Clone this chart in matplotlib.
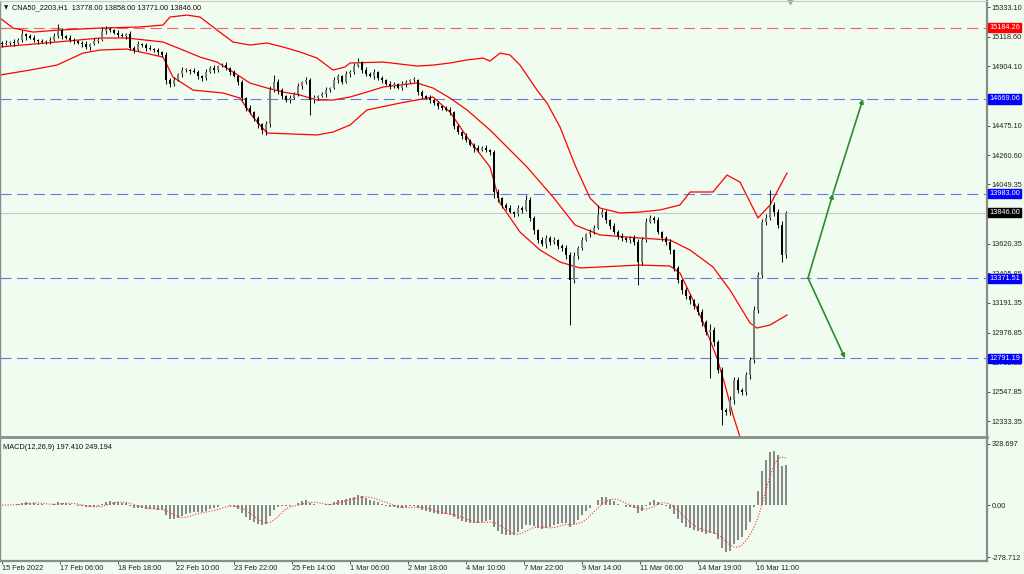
import numpy as np
import pandas as pd
import matplotlib
matplotlib.use('Agg')
import matplotlib.pyplot as plt

plt.rcParams['font.family'] = ['Liberation Sans', 'DejaVu Sans']

# H1 chart sampled every 2 bars
first_open = 15074
closes = [15066, 15074, 15081, 15074, 15095, 15139, 15124, 15110, 15095, 15088,
          15081, 15088, 15095, 15124, 15168, 15124, 15110, 15095, 15088, 15074,
          15066, 15045, 15066, 15088, 15095, 15161, 15175, 15168, 15146, 15132,
          15124, 15139, 15037, 15023, 15066, 15059, 15037, 15030, 15023, 15009,
          14987, 14806, 14777, 14806, 14849, 14878, 14878, 14871, 14864, 14835,
          14820, 14864, 14893, 14878, 14907, 14914, 14893, 14864, 14835, 14791,
          14675, 14603, 14574, 14531, 14487, 14444, 14487, 14733, 14791, 14733,
          14690, 14661, 14675, 14704, 14762, 14791, 14806, 14661, 14675, 14690,
          14704, 14733, 14748, 14806, 14835, 14791, 14849, 14864, 14907, 14936,
          14878, 14849, 14835, 14864, 14820, 14806, 14777, 14762, 14777, 14748,
          14777, 14791, 14806, 14806, 14719, 14690, 14675, 14661, 14639, 14618,
          14603, 14589, 14574, 14473, 14429, 14400, 14371, 14335, 14313, 14299,
          14313, 14299, 14285, 13995, 13951, 13901, 13879, 13850, 13836, 13879,
          13865, 13937, 13807, 13720, 13647, 13618, 13662, 13633, 13647, 13604,
          13589, 13539, 13358, 13532, 13589, 13647, 13691, 13705, 13734, 13828,
          13850, 13792, 13749, 13705, 13676, 13662, 13647, 13662, 13633, 13488,
          13647, 13778, 13807, 13792, 13705, 13662, 13633, 13575, 13445, 13358,
          13285, 13242, 13213, 13170, 13126, 13054, 12981, 12996, 12909, 12706,
          12417, 12402, 12489, 12634, 12561, 12547, 12670, 12779, 13141, 13394,
          13778, 13807, 13901, 13850, 13756, 13539, 13846]
wick_up = [15, 20, 10, 25, 15, 30, 10, 15, 20, 10,
           15, 10, 20, 25, 43, 15, 10, 20, 15, 10,
           15, 20, 10, 25, 15, 29, 20, 15, 10, 20,
           15, 10, 25, 15, 20, 10, 15, 20, 10, 15,
           10, 20, 15, 25, 10, 20, 15, 10, 20, 15,
           10, 25, 15, 20, 10, 15, 20, 10, 15, 10,
           15, 10, 20, 10, 15, 10, 20, 30, 51, 20,
           15, 10, 20, 15, 25, 10, 20, 15, 20, 10,
           15, 25, 10, 20, 15, 10, 20, 15, 25, 29,
           10, 20, 15, 20, 10, 15, 10, 20, 15, 10,
           20, 15, 10, 25, 10, 15, 10, 20, 10, 15,
           10, 15, 20, 10, 15, 10, 20, 10, 15, 25,
           15, 20, 10, 15, 20, 10, 15, 20, 10, 25,
           15, 36, 20, 15, 10, 20, 25, 15, 20, 10,
           15, 20, 25, 30, 15, 20, 10, 25, 20, 73,
           20, 15, 10, 25, 15, 20, 10, 15, 20, 25,
           20, 30, 25, 15, 20, 10, 15, 20, 10, 15,
           10, 20, 15, 10, 20, 25, 15, 40, 20, 15,
           20, 15, 30, 25, 20, 15, 25, 20, 30, 25,
           20, 30, 108, 25, 20, 30, 12]
wick_dn = [20, 10, 15, 20, 10, 15, 25, 10, 15, 20,
           10, 15, 20, 10, 15, 20, 10, 15, 20, 10,
           20, 15, 25, 10, 15, 10, 20, 15, 10, 15,
           10, 20, 15, 25, 10, 15, 20, 10, 15, 20,
           15, 30, 20, 15, 10, 20, 15, 20, 10, 25,
           20, 15, 10, 20, 15, 10, 15, 20, 10, 20,
           20, 25, 15, 20, 25, 30, 36, 20, 15, 25,
           20, 15, 25, 10, 15, 20, 15, 109, 20, 15,
           10, 20, 15, 10, 20, 15, 10, 20, 15, 10,
           20, 15, 10, 20, 15, 25, 10, 20, 15, 10,
           15, 20, 10, 15, 20, 15, 10, 20, 15, 25,
           15, 10, 20, 25, 15, 20, 15, 10, 25, 15,
           10, 15, 20, 40, 25, 20, 15, 10, 20, 15,
           20, 10, 25, 30, 20, 15, 25, 20, 15, 25,
           20, 30, 326, 25, 20, 15, 10, 20, 15, 10,
           15, 20, 25, 15, 20, 25, 15, 20, 25, 166,
           20, 15, 10, 20, 15, 25, 20, 30, 25, 20,
           25, 20, 30, 20, 25, 30, 20, 333, 30, 25,
           109, 20, 25, 30, 20, 25, 20, 30, 25, 20,
           25, 20, 15, 30, 25, 51, 20]

# Bollinger bands
upper_x = [-0.5, 2.75, 7.75, 14.5, 24.5, 34.5, 40.25, 42, 46.25, 49.5, 53.75, 57.75,
           62, 66.25, 70.25, 74.5, 78.75, 82.75, 85.75, 87, 95.25, 103.75, 107.75, 112,
           116.25, 120.25, 122, 124.5, 127, 129.5, 133.75, 136.25, 139.5, 143.25, 147,
           149.5, 154.5, 159.5, 164.5, 169.5, 172, 177.75, 181.25, 184.5, 189, 192, 196.25]
upper_p = [15255, 15182, 15153, 15168, 15182, 15190, 15204, 15262, 15276, 15262, 15168, 15081,
           15059, 15074, 15045, 15009, 14965, 14878, 14900, 14929, 14936, 14907, 14914, 14929,
           14951, 14965, 14943, 15001, 14987, 14914, 14733, 14639, 14466, 14190, 13951,
           13879, 13843, 13850, 13865, 13901, 13995, 13995, 14118, 14067, 13807, 13901, 14132]
mid_x = [-0.5, 13.75, 24.5, 31.25, 40.25, 45.25, 49.5, 53.75, 57.75, 62, 66.25, 70.25,
         74.5, 78.75, 82.75, 87, 91.25, 95.25, 99.5, 103.75, 107.75, 112, 116.25, 122,
         126.25, 131.25, 137.75, 143.25, 149.5, 159.5, 167, 172, 177.75, 182, 187, 188.75,
         192, 196.25]
mid_p = [15045, 15081, 15110, 15110, 15081, 15023, 14972, 14936, 14864, 14784, 14748, 14719,
         14697, 14661, 14661, 14683, 14719, 14755, 14770, 14784, 14748, 14675, 14589, 14444,
         14321, 14176, 13959, 13756, 13684, 13662, 13647, 13575, 13452, 13285, 13047, 13010,
         13032, 13104]
lower_x = [-0.5, 7, 13.75, 20.25, 24.5, 31.25, 40.25, 42.75, 47.75, 55.25, 59.5, 62.75,
           66.25, 78.75, 82.75, 87, 91.25, 99.5, 107.75, 112, 116.25, 122, 124.5, 129.5,
           134.5, 139.5, 144.5, 149.5, 159.5, 167, 169.5, 172.75, 175.25, 178.75, 180.75,
           182.75, 184.5, 187, 196.25]
lower_p = [14842, 14878, 14914, 15001, 15023, 15030, 14972, 14827, 14733, 14712, 14675, 14538,
           14422, 14408, 14429, 14480, 14589, 14639, 14683, 14574, 14393, 14176, 13915, 13705,
           13575, 13488, 13445, 13452, 13466, 13459, 13408, 13213, 13054, 12793, 12598,
           12380, 12221, 12055, 12076]

date_labels = ['15 Feb 2022', '17 Feb 06:00', '18 Feb 18:00', '22 Feb 10:00', '23 Feb 22:00',
               '25 Feb 14:00', '1 Mar 06:00', '2 Mar 18:00', '4 Mar 10:00', '7 Mar 22:00',
               '9 Mar 14:00', '11 Mar 06:00', '14 Mar 19:00', '16 Mar 11:00']
price_ticks = [15333.10, 15118.60, 14904.10, 14689.60, 14475.10, 14260.60, 14049.35,
               13620.35, 13405.85, 13191.35, 12976.85, 12762.35, 12547.85, 12333.35]
levels = [15184.26, 14669.06, 13983.00, 13371.51, 12791.19]
level_kind = ['r', 'b', 'b', 'b', 'b']
last_price = 13846.00
header_ohlc = [13778.00, 13858.00, 13771.00, 13846.00]
macd_ticks = [328.697, 0.0, -278.712]
macd_vals = [197.410, 249.194]
arrow_x = [201.5, 207.75, 215.25, 210.75]
arrow_p = [13371.51, 13983.00, 14669.06, 12791.19]

bg = '#effcef'
axis_c = '#8c8c8c'
fs = 5.3

opens = [first_open] + closes[:-1]
o = np.array(opens, float)
c = np.array(closes, float)
hi = np.maximum(o, c) + np.array(wick_up)
lo = np.minimum(o, c) - np.array(wick_dn)
x = np.arange(len(c))

s = pd.Series(c)
macd = s.ewm(span=6, adjust=False).mean() - s.ewm(span=13, adjust=False).mean()
signal = macd.rolling(5, min_periods=1).mean()

fig = plt.figure(figsize=(10.24, 5.74), dpi=100, facecolor=bg)
ax = fig.add_axes([0, 137 / 574, 987 / 1024, 436 / 574], facecolor=bg)
ax2 = fig.add_axes([0, 13 / 574, 987 / 1024, 122 / 574], facecolor=bg)

# horizontal levels
for lv, k in zip(levels, level_kind):
    col = '#f06464' if k == 'r' else '#6677ee'
    ax.axhline(lv, color=col, lw=0.8, ls=(0, (10, 5)), zorder=1)
ax.axhline(last_price, color='#c8c8c8', lw=0.8, zorder=1)

# bands
for bx, bp in [(upper_x, upper_p), (mid_x, mid_p), (lower_x, lower_p)]:
    ax.plot(bx, bp, color='#ff0000', lw=0.9, zorder=2)

# candles
ax.vlines(x, lo, hi, color='#111111', lw=0.75, zorder=3)
up = c >= o
body_col = np.where(up, '#7c7c7c', '#000000')
h = np.where(np.abs(c - o) < 5, 5, c - o)
ax.bar(x, h, bottom=o, width=0.72, color=body_col, lw=0, zorder=4)

# forecast arrows
for a, b in [(0, 1), (1, 2), (0, 3)]:
    ax.annotate('', xy=(arrow_x[b], arrow_p[b]), xytext=(arrow_x[a], arrow_p[a]),
                arrowprops=dict(arrowstyle='-|>', color='#2f8a2f', lw=1.2,
                                mutation_scale=6, shrinkA=0, shrinkB=0), zorder=5)

ax.set_xlim(-0.5, 246.25)
ax.set_ylim(12221, 15378)
ax.yaxis.tick_right()
ax.set_yticks(price_ticks)
ax.set_yticklabels(['%.2f' % t for t in price_ticks])
ax.tick_params(axis='y', length=2.5, width=0.6, color='#333333', labelsize=fs,
               labelcolor='#222222', pad=1)
ax.set_xticks([])
ax.spines['top'].set_color('#c8c8c8')
ax.spines['top'].set_linewidth(0.8)
ax.spines['left'].set_color(axis_c)
ax.spines['left'].set_linewidth(1.0)
ax.spines['right'].set_color(axis_c)
ax.spines['right'].set_linewidth(1.6)
ax.spines['bottom'].set_color(axis_c)
ax.spines['bottom'].set_linewidth(2)

# price label boxes
for lv, k in zip(levels, level_kind):
    fc = '#ff0000' if k == 'r' else '#0000ff'
    ax.annotate('%.2f' % lv, xy=(1, lv), xycoords=('axes fraction', 'data'),
                xytext=(1.5, 0), textcoords='offset points', ha='left', va='center',
                fontsize=fs, color='white', zorder=10, annotation_clip=False,
                bbox=dict(boxstyle='square,pad=0.15', fc=fc, ec=fc))
ax.annotate('%.2f' % last_price, xy=(1, last_price), xycoords=('axes fraction', 'data'),
            xytext=(1.5, 0), textcoords='offset points', ha='left', va='center',
            fontsize=fs, color='white', zorder=10, annotation_clip=False,
            bbox=dict(boxstyle='square,pad=0.15', fc='black', ec='black'))

# header
fig.text(4 / 1024, 1 - 8 / 574, '\u25bc', fontsize=4, color='#222222', va='center',
         family='DejaVu Sans')
fig.text(12 / 1024, 1 - 8 / 574, 'CNA50_2203,H1  ' + ' '.join('%.2f' % v for v in header_ohlc),
         fontsize=fs, color='#111111', va='center')
ax.plot([790 / 987], [1.0], marker='v', ms=5, color='#a0a0a0', transform=ax.transAxes,
        clip_on=False)

# MACD
ax2.bar(x, macd, width=0.55, color='#888888', lw=0, zorder=2)
ax2.plot(x, signal, color='#ff3030', lw=0.8, ls=(0, (1, 1.5)), zorder=3)
ax2.set_xlim(-0.5, 246.25)
ax2.set_ylim(-300, 355)
ax2.yaxis.tick_right()
ax2.set_yticks(macd_ticks)
ax2.set_yticklabels(['328.697', '0.00', '-278.712'])
ax2.tick_params(axis='y', length=2.5, width=0.6, color='#333333', labelsize=fs,
                labelcolor='#222222', pad=1)
ax2.set_xticks([14.5 * k for k in range(len(date_labels))])
ax2.set_xticklabels(date_labels, ha='left')
ax2.tick_params(axis='x', length=2, width=0.6, color='#333333', labelsize=fs,
                labelcolor='#222222', pad=1)
ax2.spines['top'].set_visible(False)
ax2.spines['left'].set_color(axis_c)
ax2.spines['left'].set_linewidth(1.0)
for sp in ['right', 'bottom']:
    ax2.spines[sp].set_color(axis_c)
    ax2.spines[sp].set_linewidth(1.6)
ax2.text(3 / 987, 0.96, 'MACD(12,26,9) %.3f %.3f' % tuple(macd_vals), transform=ax2.transAxes,
         fontsize=fs, color='#111111', va='top')

fig.savefig('out.png', dpi=100, facecolor=bg)
